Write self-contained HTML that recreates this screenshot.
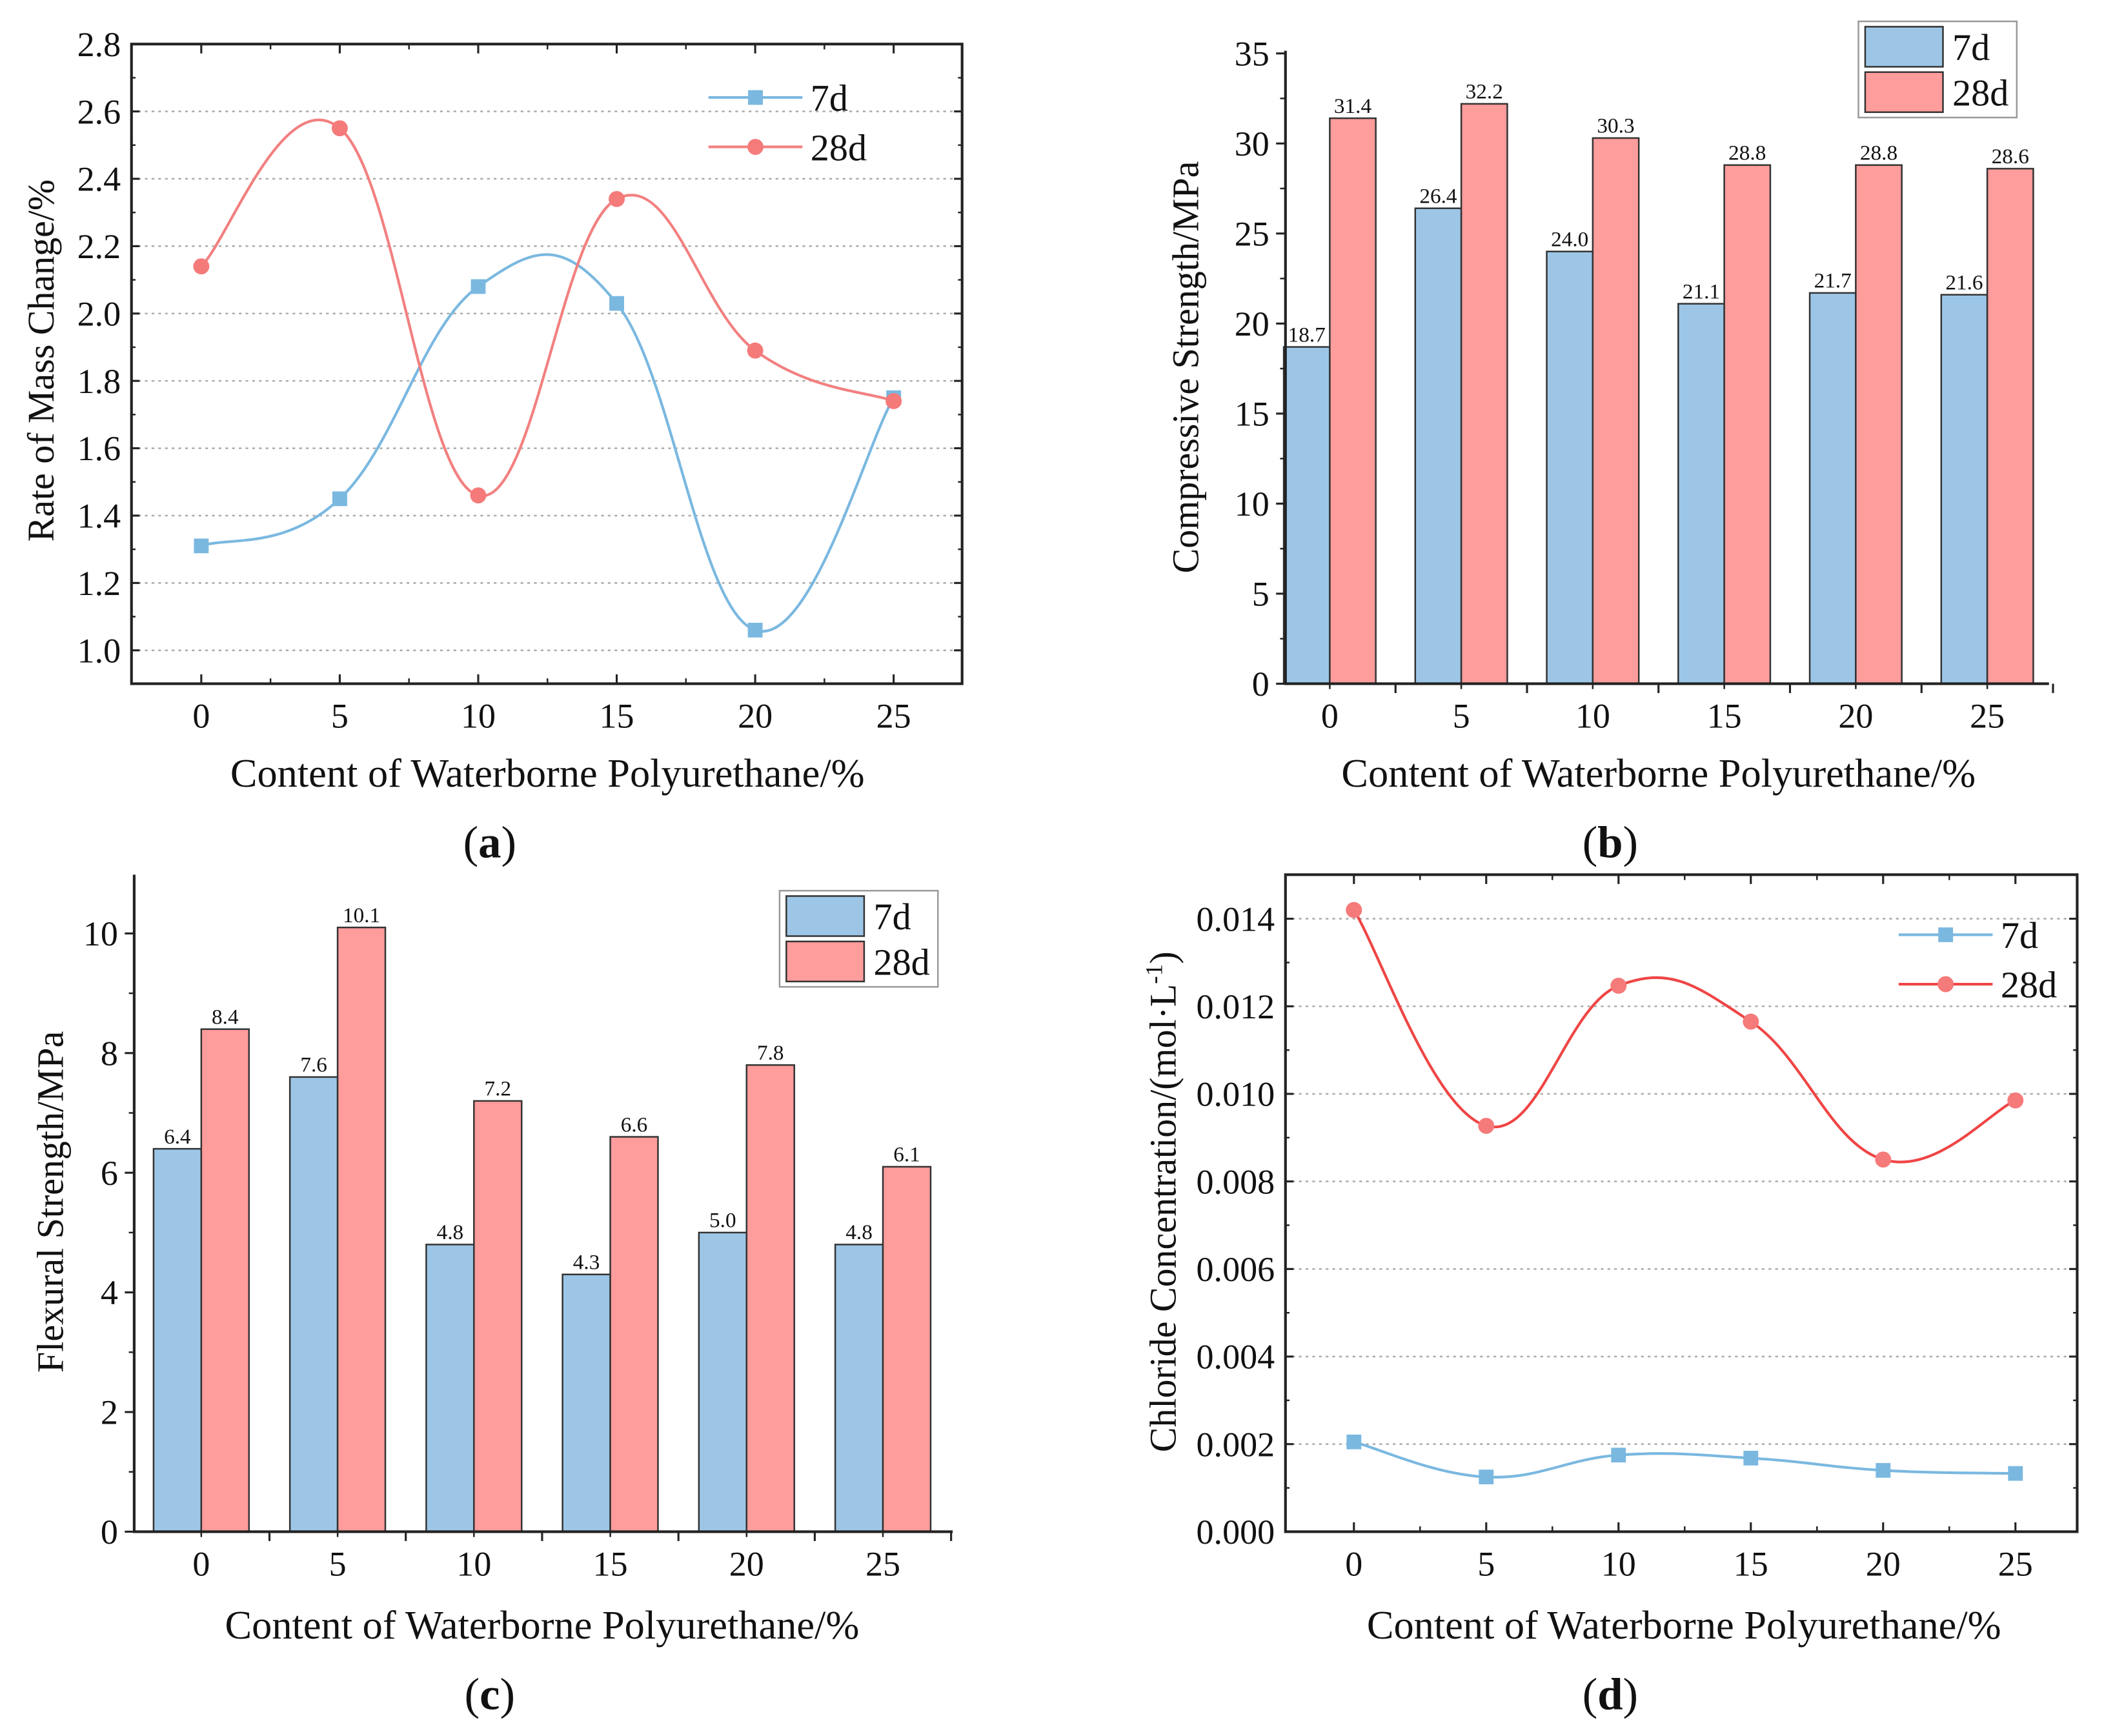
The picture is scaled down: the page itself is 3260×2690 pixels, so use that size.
<!DOCTYPE html>
<html><head><meta charset="utf-8"><style>
html,body{margin:0;padding:0;background:#fff;}
svg{display:block;}
svg text{font-family:"Liberation Serif","DejaVu Serif",serif;}
</style></head><body>
<svg id="fig" width="3260" height="2690" viewBox="0 0 1568 1300" preserveAspectRatio="none" xmlns="http://www.w3.org/2000/svg" font-family="Liberation Serif, DejaVu Serif, serif"></svg>
<script>
// shared categories
const categories = [0, 5, 10, 15, 20, 25];
// panel a: rate of mass change
const massTicks = [1.0, 1.2, 1.4, 1.6, 1.8, 2.0, 2.2, 2.4, 2.6, 2.8];
const mass7d = [1.31, 1.45, 2.08, 2.03, 1.06, 1.75];
const mass28d = [2.14, 2.55, 1.46, 2.34, 1.89, 1.74];
// panel b: compressive strength
const compTicks = [0, 5, 10, 15, 20, 25, 30, 35];
const comp7d = [18.7, 26.4, 24.0, 21.1, 21.7, 21.6];
const comp28d = [31.4, 32.2, 30.3, 28.8, 28.8, 28.6];
// panel c: flexural strength
const flexTicks = [0, 2, 4, 6, 8, 10];
const flex7d = [6.4, 7.6, 4.8, 4.3, 5.0, 4.8];
const flex28d = [8.4, 10.1, 7.2, 6.6, 7.8, 6.1];
// panel d: chloride concentration
const chlorTicks = [0, 0.002, 0.004, 0.006, 0.008, 0.010, 0.012, 0.014];
const chlor7d = [0.00205, 0.00125, 0.00175, 0.00168, 0.0014, 0.00133];
const chlor28d = [0.0142, 0.00927, 0.01247, 0.01165, 0.0085, 0.00985];

const NS = "http://www.w3.org/2000/svg";
const svg = document.getElementById('fig');
function mk(tag, attrs, parent, text){
  const e = document.createElementNS(NS, tag);
  for (const k in attrs) e.setAttribute(k, attrs[k]);
  if (text !== undefined) e.textContent = text;
  (parent || svg).appendChild(e);
  return e;
}
function lin(d0, d1, r0, r1){ return v => r0 + (v - d0) * (r1 - r0) / (d1 - d0); }
function spline(pts){
  let d = `M${pts[0][0]},${pts[0][1]}`;
  for (let i = 0; i < pts.length - 1; i++){
    const p0 = pts[i-1] || pts[i], p1 = pts[i], p2 = pts[i+1], p3 = pts[i+2] || p2;
    const c1 = [p1[0] + (p2[0]-p0[0])/5, p1[1] + (p2[1]-p0[1])/5];
    const c2 = [p2[0] - (p3[0]-p1[0])/5, p2[1] - (p3[1]-p1[1])/5];
    d += ` C${c1[0]},${c1[1]} ${c2[0]},${c2[1]} ${p2[0]},${p2[1]}`;
  }
  return d;
}
const BLUE_L = '#7ab8e0', RED_L = '#f28080', RED_D = '#ef4545';
const BLUE_F = '#9dc6e6', RED_F = '#ff9c9c';
const FONT = '"Liberation Serif", "DejaVu Serif", serif';

function txt(x, y, s, size, parent, anchor, extra){
  const t = mk('text', Object.assign({x: x, y: y, 'font-size': size, 'text-anchor': anchor || 'middle', fill: '#111', 'font-family': FONT}, extra || {}), parent, s);
  return t;
}

// ---------- line panel ----------
function linePanel(o){
  const g = mk('g', {});
  
  
  const xs = lin(0, 25, o.x0, o.x25);
  const ys = lin(o.yt0, o.yt1, o.yp0, o.yp1);
  o.ticks.forEach((t, i) => {
    if (i === 0 && o.skipFirstGrid) return;
    const gl = mk('line', {x1: o.L, x2: o.R, y1: ys(t), y2: ys(t), stroke: '#aaa', 'stroke-width': 1.2, 'stroke-dasharray': '2,3'}, g);
    
    
  });
  o.ticks.forEach((t, i) => {
    const y = ys(t);
    mk('line', {x1: o.L, x2: o.L + 6, y1: y, y2: y, stroke: '#222', 'stroke-width': 1.5}, g);
    mk('line', {x1: o.R, x2: o.R - 6, y1: y, y2: y, stroke: '#222', 'stroke-width': 1.5}, g);
    if (i < o.ticks.length - 1){
      const ym = ys((t + o.ticks[i+1]) / 2);
      mk('line', {x1: o.L, x2: o.L + 3, y1: ym, y2: ym, stroke: '#222', 'stroke-width': 1.2}, g);
      mk('line', {x1: o.R, x2: o.R - 3, y1: ym, y2: ym, stroke: '#222', 'stroke-width': 1.2}, g);
    }
    const lab = txt(o.L - 8, y + 9, o.fmt(t), 26, g, 'end');
    
    
  });
  categories.forEach((c, i) => {
    const x = xs(c);
    mk('line', {x1: x, x2: x, y1: o.B, y2: o.B - 7, stroke: '#222', 'stroke-width': 1.5}, g);
    mk('line', {x1: x, x2: x, y1: o.T, y2: o.T + 7, stroke: '#222', 'stroke-width': 1.5}, g);
    if (i < categories.length - 1){
      const xm = xs(c + 2.5);
      mk('line', {x1: xm, x2: xm, y1: o.B, y2: o.B - 4, stroke: '#222', 'stroke-width': 1.2}, g);
      mk('line', {x1: xm, x2: xm, y1: o.T, y2: o.T + 4, stroke: '#222', 'stroke-width': 1.2}, g);
    }
    const lab = txt(x, o.B + 33, String(c), 26, g);
    
    
  });
  const box = mk('rect', {x: o.L, y: o.T, width: o.R - o.L, height: o.B - o.T, fill: 'none', stroke: '#222', 'stroke-width': 2}, g);
  
  
  o.series.forEach(s => {
    const pts = categories.map((c, i) => [xs(c), ys(s.vals[i])]);
    const p = mk('path', {d: spline(pts), fill: 'none', stroke: s.color, 'stroke-width': 2}, g);
    
    
    pts.forEach(pt => {
      let m;
      if (s.marker === 'sq') m = mk('rect', {x: pt[0]-5.5, y: pt[1]-5.5, width: 11, height: 11, fill: s.mcolor}, g);
      else m = mk('circle', {cx: pt[0], cy: pt[1], r: 6, fill: s.mcolor}, g);
      
      
    });
  });
  o.series.forEach((s, i) => {
    const y = o.legY + i * 37;
    const lg = mk('g', {}, g);
    
    
    mk('line', {x1: o.legX, x2: o.legX + 70, y1: y, y2: y, stroke: s.color, 'stroke-width': 2}, lg);
    if (s.marker === 'sq') mk('rect', {x: o.legX+35-5.5, y: y-5.5, width: 11, height: 11, fill: s.mcolor}, lg);
    else mk('circle', {cx: o.legX+35, cy: y, r: 6, fill: s.mcolor}, lg);
    txt(o.legX + 76, y + 10, s.label, 28, lg, 'start');
  });
  const yt = txt(0, 0, '', 28, g, 'middle', {transform: `translate(${o.ytx},${o.yty}) rotate(-90)`});
  if (o.ytitleHtml) { o.ytitleHtml(yt); } else yt.textContent = o.ytitle;
  
  
  const xt = txt(o.xtx, o.xty, 'Content of Waterborne Polyurethane/%', 30, g);
  
  
  const pl = txt(o.plx, o.ply, '', 34, g);
  pl.innerHTML = `(<tspan font-weight="bold">${o.tag}</tspan>)`;
  
  
}

// ---------- bar panel ----------
function barPanel(o){
  const g = mk('g', {});
  
  
  const xs = lin(0, 25, o.x0, o.x25);
  const ys = lin(o.yt0, o.yt1, o.yp0, o.yp1);
  const step = xs(5) - xs(0);
  const bw = step * 0.35;
  categories.forEach((c, i) => {
    const x = xs(c);
    [[o.v7[i], BLUE_F, '7d', x - bw], [o.v28[i], RED_F, '28d', x]].forEach(b => {
      const r = mk('rect', {x: b[3], y: ys(b[0]), width: bw, height: ys(0) - ys(b[0]), fill: b[1], stroke: '#333', 'stroke-width': 1.2}, g);
      
      
      const l = txt(b[3] + bw/2, ys(b[0]) - 4, b[0].toFixed(1), 16, g);
      
      
    });
    const lab = txt(x, o.B + 33, String(c), 26, g);
    
    
    const xm = xs(c + 2.5);
    mk('line', {x1: xm, x2: xm, y1: o.B, y2: o.B + 7, stroke: '#222', 'stroke-width': 1.5}, g);
  });
  o.ticks.forEach((t, i) => {
    const y = ys(t);
    mk('line', {x1: o.L, x2: o.L - 7, y1: y, y2: y, stroke: '#222', 'stroke-width': 1.5}, g);
    if (i < o.ticks.length - 1){
      const ym = ys((t + o.ticks[i+1]) / 2);
      mk('line', {x1: o.L, x2: o.L - 4, y1: ym, y2: ym, stroke: '#222', 'stroke-width': 1.2}, g);
    }
    const lab = txt(o.L - 12, y + 9, String(t), 26, g, 'end');
    
    
  });
  categories.forEach(c => {
    const xm = xs(c);
    mk('line', {x1: xm, x2: xm, y1: o.B, y2: o.B + 4, stroke: '#222', 'stroke-width': 1.2}, g);
  });
  const ax = mk('path', {d: `M${o.L},${o.T} L${o.L},${o.B} L${o.R},${o.B}`, fill: 'none', stroke: '#222', 'stroke-width': 2}, g);
  
  
  const lgb = mk('rect', {x: o.legX, y: o.legY, width: 118, height: 72, fill: '#fff', stroke: '#999', 'stroke-width': 1.2}, g);
  
  
  [['7d', BLUE_F], ['28d', RED_F]].forEach((s, i) => {
    const lg = mk('g', {}, g);
    
    
    mk('rect', {x: o.legX + 5, y: o.legY + 4 + i*34, width: 58, height: 30, fill: s[1], stroke: '#333', 'stroke-width': 1.2}, lg);
    txt(o.legX + 70, o.legY + 29 + i*34, s[0], 28, lg, 'start');
  });
  const yt = txt(0, 0, o.ytitle, 28, g, 'middle', {transform: `translate(${o.ytx},${o.yty}) rotate(-90)`});
  
  
  const xt = txt(o.xtx, o.xty, 'Content of Waterborne Polyurethane/%', 30, g);
  
  
  const pl = txt(o.plx, o.ply, '', 34, g);
  pl.innerHTML = `(<tspan font-weight="bold">${o.tag}</tspan>)`;
  
  
}

linePanel({name: 'panel-a-mass-change', tag: 'a', L: 98, R: 717, T: 33, B: 512,
  x0: 150, x25: 666, yt0: 1.0, yt1: 2.8, yp0: 487, yp1: 33, ticks: massTicks, fmt: v => v.toFixed(1),
  series: [{label: '7d', vals: mass7d, color: BLUE_L, mcolor: '#7ab8e0', marker: 'sq'},
           {label: '28d', vals: mass28d, color: RED_L, mcolor: '#f57a7a', marker: 'ci'}],
  legX: 528, legY: 73, ytitle: 'Rate of Mass Change/%', ytx: 40, yty: 270, xtx: 408, xty: 589, plx: 365, ply: 642});

barPanel({name: 'panel-b-compressive-strength', tag: 'b', L: 958, R: 1527, T: 38, B: 512,
  x0: 991, x25: 1481, yt0: 0, yt1: 35, yp0: 512, yp1: 40, ticks: compTicks, v7: comp7d, v28: comp28d,
  legX: 1385, legY: 16, ytitle: 'Compressive Strength/MPa', ytx: 893, yty: 275, xtx: 1236, xty: 589, plx: 1200, ply: 642});

barPanel({name: 'panel-c-flexural-strength', tag: 'c', L: 100, R: 710, T: 655, B: 1147,
  x0: 150, x25: 658, yt0: 0, yt1: 10, yp0: 1147, yp1: 699, ticks: flexTicks, v7: flex7d, v28: flex28d,
  legX: 581, legY: 667, ytitle: 'Flexural Strength/MPa', ytx: 47, yty: 900, xtx: 404, xty: 1227, plx: 365, ply: 1280});

linePanel({name: 'panel-d-chloride', tag: 'd', L: 958, R: 1548, T: 655, B: 1147, skipFirstGrid: true,
  x0: 1009, x25: 1502, yt0: 0, yt1: 0.014, yp0: 1147, yp1: 688, ticks: chlorTicks, fmt: v => v.toFixed(3),
  series: [{label: '7d', vals: chlor7d, color: BLUE_L, mcolor: '#7ab8e0', marker: 'sq'},
           {label: '28d', vals: chlor28d, color: RED_D, mcolor: '#f57a7a', marker: 'ci'}],
  legX: 1415, legY: 700, ytitleHtml: t => { t.innerHTML = 'Chloride Concentration/(mol·L<tspan dy="-10" font-size="18">-1</tspan><tspan dy="10">)</tspan>'; },
  ytx: 876, yty: 900, xtx: 1255, xty: 1227, plx: 1200, ply: 1280});
</script>
</body></html>
